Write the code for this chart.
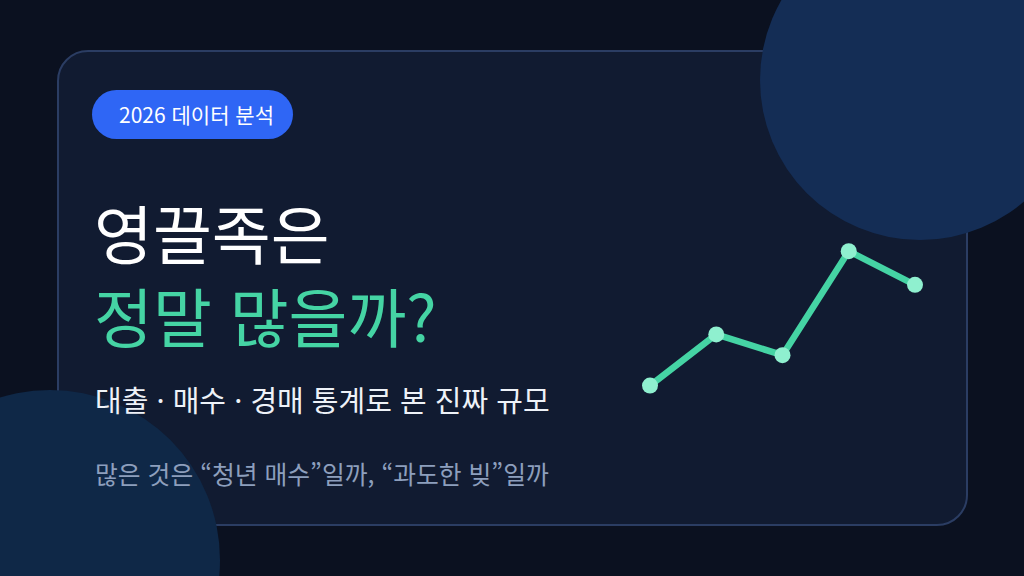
<!DOCTYPE html>
<html lang="ko">
<head>
<meta charset="utf-8">
<title>영끌족은 정말 많을까?</title>
<script src="https://cdn.jsdelivr.net/npm/d3@7"></script>
<style>
  html, body { margin: 0; padding: 0; background: #0b1120; }
  svg { display: block; }
  text { font-family: "Noto Sans CJK KR", "Noto Sans", sans-serif; }
</style>
</head>
<body>
<div class="chart"></div>
<script>
var width = 1024;
var height = 576;

// decorative trend line (5 periods, relative index)
var periods = ["p1", "p2", "p3", "p4", "p5"];
var trendValues = [9, 41, 28, 93, 72];

var badgeLabel = "2026 데이터 분석";
var titleLines = ["영끌족은", "정말 많을까?"];
var subtitle = "대출 · 매수 · 경매 통계로 본 진짜 규모";
var question = "많은 것은 “청년 매수”일까, “과도한 빚”일까";

var svg = d3
  .select(".chart")
  .append("svg")
  .attr("width", width)
  .attr("height", height);

svg.append("rect")
  .attr("width", width)
  .attr("height", height)
  .attr("fill", "#0b1120");

// card
svg.append("rect")
  .attr("x", 58)
  .attr("y", 51)
  .attr("width", 909)
  .attr("height", 474)
  .attr("rx", 30)
  .attr("fill", "#111b31")
  .attr("stroke", "#2b3d63")
  .attr("stroke-width", 2);

// background blobs
svg.append("circle")
  .attr("cx", 920)
  .attr("cy", 80)
  .attr("r", 160)
  .attr("fill", "#142d55");

svg.append("circle")
  .attr("cx", 50)
  .attr("cy", 560)
  .attr("r", 170)
  .attr("fill", "#0f2847");

// badge
svg.append("rect")
  .attr("x", 92)
  .attr("y", 90)
  .attr("width", 201)
  .attr("height", 49)
  .attr("rx", 24.5)
  .attr("fill", "#2f66f5");

svg.append("text")
  .attr("x", 119)
  .attr("y", 123)
  .attr("font-size", 21)
  .attr("fill", "#ffffff")
  .text(badgeLabel);

// title
svg.append("text")
  .attr("x", 94)
  .attr("y", 259)
  .attr("font-size", 64)
  .attr("fill", "#ffffff")
  .text(titleLines[0]);

svg.append("text")
  .attr("x", 94)
  .attr("y", 342)
  .attr("font-size", 64)
  .attr("fill", "#45d4a4")
  .text(titleLines[1]);

svg.append("text")
  .attr("x", 95)
  .attr("y", 412)
  .attr("font-size", 29)
  .attr("fill", "#eef2f8")
  .text(subtitle);

svg.append("text")
  .attr("x", 95)
  .attr("y", 484)
  .attr("font-size", 24.8)
  .attr("fill", "#8d9fbd")
  .text(question);

// trend line
var xScale = d3
  .scalePoint()
  .domain(periods)
  .range([650, 915]);

var yScale = d3
  .scaleLinear()
  .domain([0, 100])
  .range([400, 240]);

var line = d3
  .line()
  .x((d, i) => xScale(periods[i]))
  .y(d => yScale(d));

svg.append("path")
  .datum(trendValues)
  .attr("d", line)
  .attr("fill", "none")
  .attr("stroke", "#45d4a4")
  .attr("stroke-width", 6.5)
  .attr("stroke-linejoin", "round");

svg.selectAll(".dot")
  .data(trendValues)
  .enter()
  .append("circle")
  .attr("class", "dot")
  .attr("cx", (d, i) => xScale(periods[i]))
  .attr("cy", d => yScale(d))
  .attr("r", 8)
  .attr("fill", "#8ff0cf");
</script>
</body>
</html>
